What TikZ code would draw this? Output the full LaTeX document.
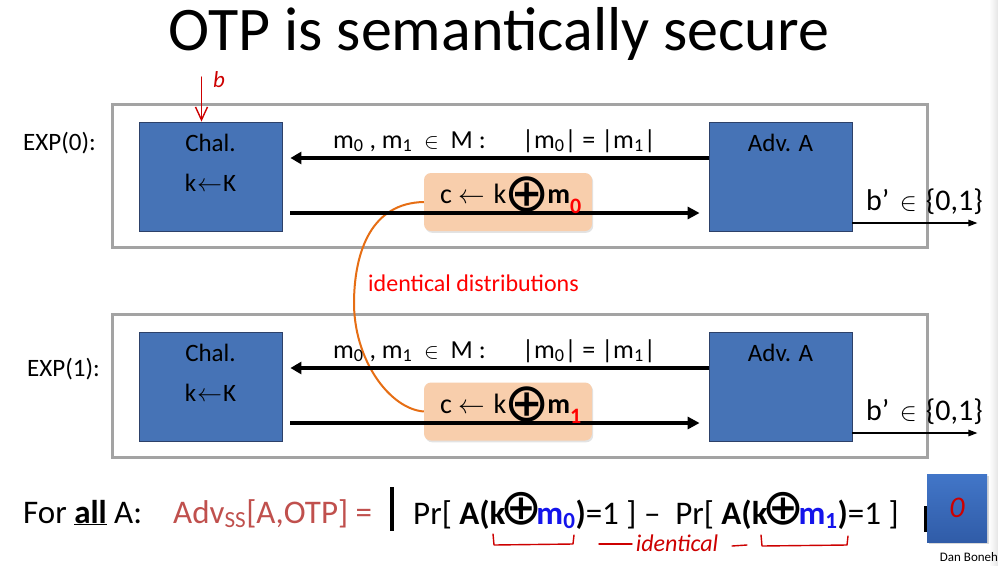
\RequirePackage{fix-cm}
\documentclass[tikz,border=0pt]{standalone}
\usepackage{fontspec}
\setmainfont{Carlito}
\newfontfamily\opfont{DejaVu Sans}
\usetikzlibrary{arrows.meta,shadows}

\definecolor{framegray}{RGB}{163,163,163}
\definecolor{boxblue}{RGB}{70,115,182}
\definecolor{boxedge}{RGB}{45,65,105}
\definecolor{cipherfill}{RGB}{248,206,172}
\definecolor{curveorange}{RGB}{230,110,20}
\definecolor{alertred}{RGB}{255,0,0}
\definecolor{penred}{RGB}{205,0,0}
\definecolor{advred}{RGB}{192,80,77}
\definecolor{mblue}{RGB}{20,20,235}
\definecolor{resulttop}{RGB}{66,118,200}
\definecolor{resultbot}{RGB}{48,92,168}

\newcommand{\fs}[1]{\fontsize{#1pt}{#1pt}\selectfont}
% circled plus: font size, vertical shift, box width
\newcommand{\xorbig}[3]{\makebox[#3]{\raisebox{#2}{\fs{#1}\opfont ⊕}}}

\begin{document}
\begin{tikzpicture}[x=1pt,y=-1pt,
  frame/.style={draw=framegray, line width=3pt, minimum width=815pt,
    minimum height=143pt, inner sep=0pt},
  party/.style={draw=boxedge, fill=boxblue, line width=0.8pt,
    minimum width=143pt, minimum height=109pt, inner sep=0pt},
  cipher/.style={fill=cipherfill, rounded corners=7pt, minimum width=168pt,
    minimum height=58pt, inner sep=0pt,
    drop shadow={opacity=0.22, shadow xshift=1.2pt, shadow yshift=-1.8pt}},
  partytext/.style={font=\fs{25}, inner sep=0pt},
  msgleft/.style={line width=4pt, -{Triangle[length=11pt,width=12pt]}},
  msgright/.style={line width=3.4pt, -{Triangle[length=12pt,width=12pt]}},
  outarrow/.style={line width=1.3pt, -{Triangle[length=9pt,width=6.5pt]}},
  orangecurve/.style={draw=curveorange, line width=2pt},
  pen/.style={draw=penred, line width=1.4pt, line cap=round, line join=round},
  bar/.style={line width=4pt},
  ]
\useasboundingbox (0,0) rectangle (998,565);
\fill[white] (0,0) rectangle (998,565);
\shade[left color=white, right color=black!10] (989,0) rectangle (998,565);

% title
\node[font=\fs{62}, anchor=base, inner sep=0pt] (title) at (499,50) {OTP is semantically secure};

% ---------- experiment 0 ----------
\node[frame] (f0) at (519.5,175.5) {};
\node[party] (chal0) at (210.5,176.5) {};
\node[party] (adv0) at (780.5,176.5) {};
\node[font=\fs{25}, anchor=west, inner sep=0pt] (exp0) at (23,143) {EXP(0):};
\node[partytext] (chalname0) at ([yshift=33.5]chal0.center) {Chal.};
\node[partytext] (key0) at ([yshift=-6.5]chal0.center) {k\hspace{1pt}$\leftarrow$\hspace{1pt}K};
\node[partytext] (advname0) at ([yshift=33.5]adv0.center) {Adv. A};

\node[cipher] (enc0) at (508,202) {};

% ---------- experiment 1 ----------
\node[frame] (f1) at (519.5,386) {};
\node[party] (chal1) at (210.5,386.5) {};
\node[party] (adv1) at (780.5,386.5) {};
\node[font=\fs{25}, anchor=west, inner sep=0pt] (exp1) at (27,369) {EXP(1):};
\node[partytext] (chalname1) at ([yshift=33.5]chal1.center) {Chal.};
\node[partytext] (key1) at ([yshift=-6.5]chal1.center) {k\hspace{1pt}$\leftarrow$\hspace{1pt}K};
\node[partytext] (advname1) at ([yshift=33.5]adv1.center) {Adv. A};

\node[cipher] (enc1) at (508,411.5) {};

% the two ciphertext distributions are linked
\draw[orangecurve] (enc0.west) .. controls (372,203) and (355,250) .. (354,300)
  .. controls (353,360) and (390,409) .. (enc1.west);
\node[font=\fs{24}, text=alertred, anchor=west, inner sep=0pt] (same) at (368,283)
  {identical distributions};

% messages
\foreach \e in {0,1}{
  \draw[msgleft] ([yshift=18.5]adv\e.west) -- ([xshift=8,yshift=18.5]chal\e.east);
  \draw[msgright] ([xshift=8,yshift=-36.5]chal\e.east) -- ([xshift=-9,yshift=-36.5]adv\e.west);
  \draw[outarrow] ([yshift=-46.5]adv\e.east) -- ([xshift=125,yshift=-46.5]adv\e.east);
}
\node[font=\fs{26}, anchor=base west, inner sep=0pt] (msgs0) at (333,148)
  {m\textsubscript{0} , m\textsubscript{1}\ \ \scalebox{0.85}{$\in$}\ \ M\ :\hspace{1.4em}|m\textsubscript{0}| = |m\textsubscript{1}|};
\node[font=\fs{26}, anchor=base west, inner sep=0pt] (msgs1) at (333,358)
  {m\textsubscript{0} , m\textsubscript{1}\ \ \scalebox{0.85}{$\in$}\ \ M\ :\hspace{1.4em}|m\textsubscript{0}| = |m\textsubscript{1}|};

\node[font=\fs{28}, anchor=base west, inner sep=0pt] (ct0) at (440,203)
  {c\hspace{6pt}\scalebox{0.95}{$\leftarrow$}\hspace{9pt}k\hspace{6pt}\xorbig{54}{-8pt}{29pt}\hspace{6pt}\textbf{m}\raisebox{-10pt}{\fs{22}\bfseries\color{alertred}0}};
\node[font=\fs{28}, anchor=base west, inner sep=0pt] (ct1) at (440,413)
  {c\hspace{6pt}\scalebox{0.95}{$\leftarrow$}\hspace{9pt}k\hspace{6pt}\xorbig{54}{-8pt}{29pt}\hspace{6pt}\textbf{m}\raisebox{-10pt}{\fs{22}\bfseries\color{alertred}1}};

\node[font=\fs{30}, anchor=base west, inner sep=0pt] (guess0) at (866,210)
  {b’\hspace{0.35em}\scalebox{0.85}{$\in$}\hspace{0.3em}\{0,1\}};
\node[font=\fs{30}, anchor=base west, inner sep=0pt] (guess1) at (866,420)
  {b’\hspace{0.35em}\scalebox{0.85}{$\in$}\hspace{0.3em}\{0,1\}};

% the challenge bit
\coordinate (bsrc) at (201.5,77);
\draw[pen, -{Straight Barb[length=13pt,width=12pt]}] (bsrc) -- ([xshift=-9]chal0.north);
\node[font=\fs{23}\itshape, text=penred, inner sep=0pt] (bbit) at (219,80) {b};

% ---------- advantage ----------
\node[font=\fs{33}, anchor=base west, inner sep=0pt] (forall) at (23,523)
  {For \underline{\textbf{all}} A:};
\node[font=\fs{33}, text=advred, anchor=base west, inner sep=0pt] (adv) at (173,523)
  {Adv\textsubscript{SS}[A,OTP] =};
\coordinate (bar1t) at (392,487);
\coordinate (bar1b) at (392,531);
\draw[bar] (bar1t) -- (bar1b);
\node[font=\fs{33}, anchor=base west, inner sep=0pt] (probs) at (413,524)
  {Pr[ \textbf{A(k}\hspace{3pt}\xorbig{50}{0pt}{25pt}\hspace{3pt}\textbf{\color{mblue}m\textsubscript{0}}\textbf{)}=1 ] –\ \ Pr[ \textbf{A(k}\hspace{3pt}\xorbig{50}{0pt}{25pt}\hspace{3pt}\textbf{\color{mblue}m\textsubscript{1}}\textbf{)}=1 ]};
\coordinate (bar2t) at (926,506);
\coordinate (bar2b) at (926,532);
\draw[bar] (bar2t) -- (bar2b);
\node[minimum width=60pt, minimum height=68pt, inner sep=0pt,
  top color=resulttop, bottom color=resultbot,
  drop shadow={opacity=0.3, shadow xshift=1.5pt, shadow yshift=-2pt}] (result) at (957,508) {};
\node[font=\fs{30}\itshape, text=penred, inner sep=0pt] (zero) at (result.center) {0};
\node[font=\fs{13}, inner sep=0pt] (credit) at (969,557) {Dan Boneh};

% hand-drawn brackets under the two ciphertexts
\draw[pen] (493,534) -- (494,545) -- (573,544) -- (574,535);
\draw[pen] (599,544) -- (632,544);
\node[font=\fs{24}\itshape, text=penred, inner sep=0pt] (ident) at (677,543) {identical};
\draw[pen] (732,546) -- (747,545);
\draw[pen] (761,535) -- (762,546) -- (847,545) -- (848,536);
\end{tikzpicture}
\end{document}
